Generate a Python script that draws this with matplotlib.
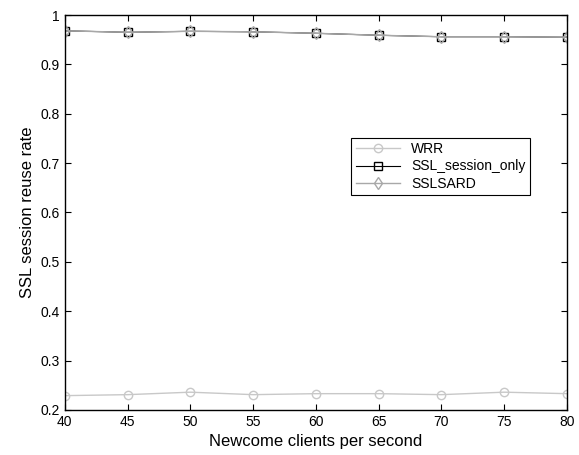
import matplotlib.pyplot as plt

plt.rcParams['font.family'] = ['Liberation Sans', 'DejaVu Sans']

# Datos
clientes = [40, 45, 50, 55, 60, 65, 70, 75, 80]
wrr = [0.229, 0.231, 0.236, 0.231, 0.233, 0.233, 0.231, 0.236, 0.233]
ssl_session_only = [0.968, 0.965, 0.967, 0.966, 0.963, 0.959, 0.956, 0.956, 0.955]
sslsard = [0.968, 0.965, 0.967, 0.966, 0.963, 0.959, 0.956, 0.956, 0.955]

fig = plt.figure(figsize=(5.79, 4.55), dpi=100)
ax = fig.add_axes([0.112, 0.099, 0.867, 0.868])

ax.plot(clientes, wrr, color='#c8c8c8', lw=1, marker='o', ms=6,
        mfc='none', mec='#c8c8c8', label='WRR')
ax.plot(clientes, ssl_session_only, color='black', lw=0.8, marker='s', ms=6,
        mfc='none', mec='black', label='SSL_session_only')
ax.plot(clientes, sslsard, color='#a8a8a8', lw=1, marker='d', ms=6,
        mfc='none', mec='#a8a8a8', label='SSLSARD')

ax.set_xlim(40, 80)
ax.set_ylim(0.2, 1)
ax.set_xticks(clientes)
ax.set_yticks([0.2, 0.3, 0.4, 0.5, 0.6, 0.7, 0.8, 0.9, 1])
ax.set_yticklabels(['0.2', '0.3', '0.4', '0.5', '0.6', '0.7', '0.8', '0.9', '1'])
ax.tick_params(direction='in', top=True, right=True, labelsize=10, length=4)
for s in ax.spines.values():
    s.set_linewidth(1.0)
ax.set_xlabel('Newcome clients per second', fontsize=12)
ax.set_ylabel('SSL session reuse rate', fontsize=12)

leg = ax.legend(loc='upper right', bbox_to_anchor=(0.926, 0.689), fontsize=10,
                fancybox=False, framealpha=1, edgecolor='black', borderaxespad=0,
                handlelength=3.2, labelspacing=0.25, borderpad=0.3)
leg.get_frame().set_linewidth(0.8)

fig.savefig('out.png', dpi=100)
